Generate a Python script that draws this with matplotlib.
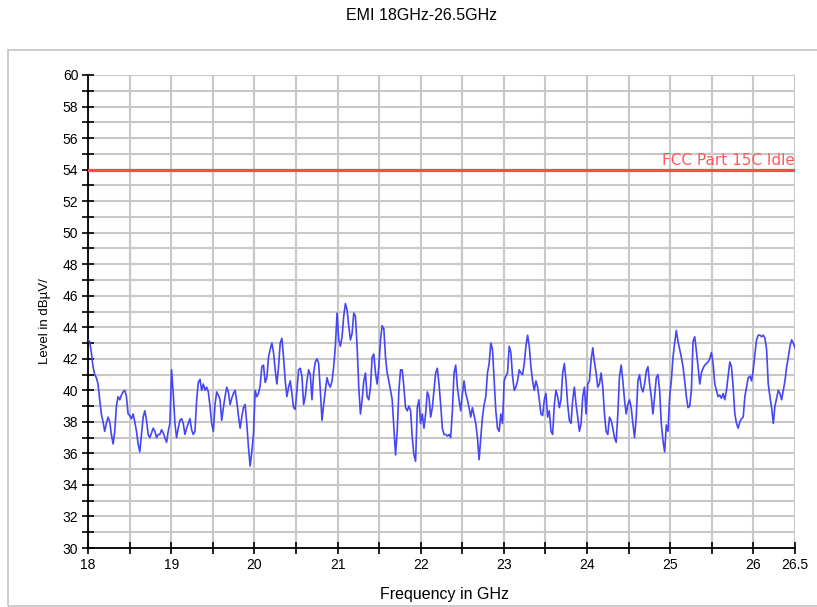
import numpy as np
import matplotlib
matplotlib.use("Agg")
import matplotlib.pyplot as plt
from matplotlib.patches import Rectangle
from matplotlib.ticker import MultipleLocator

plt.rcParams['font.family'] = ['Liberation Sans', 'DejaVu Sans']

level_a = [43.2, 43.1, 42.4, 41.5, 41.0, 40.8, 40.4, 39.4, 38.5, 38.0, 37.4, 37.9, 38.3, 38.0, 37.2,
           36.6, 37.4, 39.0, 39.6, 39.4, 39.7, 39.9, 40.0, 39.6, 38.5, 38.4, 38.2, 38.5, 38.0, 37.4,
           36.6, 36.1, 37.2, 38.3, 38.7, 38.1, 37.2, 37.0, 37.3, 37.6, 37.4, 37.0, 37.2, 37.2, 37.5,
           37.3, 37.0, 36.7, 37.4, 37.9, 41.3, 39.8, 37.9, 37.0, 37.6, 38.1, 38.2, 37.9, 37.2, 37.6,
           37.9, 38.2, 37.5, 37.2, 37.4, 39.4, 40.5, 40.7, 40.0, 40.4, 40.0, 40.2, 39.9, 39.0]
level_b = [37.9, 37.4, 39.1, 39.9, 39.7, 39.4, 38.1, 38.9, 39.6, 40.2, 39.9, 39.1, 39.5, 39.8, 40.0,
           39.3, 38.4, 37.6, 38.3, 38.9, 39.1, 37.9, 36.4, 35.2, 36.1, 37.2, 40.0, 39.6, 39.8, 40.3,
           41.5, 41.6, 40.5, 40.8, 42.1, 42.6, 43.0, 42.4, 41.3, 40.4, 41.5, 43.0, 43.3, 42.1, 40.6,
           39.6, 40.2, 40.6, 39.8, 38.9, 38.8, 40.0, 41.3, 41.4, 40.9, 39.1, 39.6, 40.6, 41.3, 41.0,
           39.4, 41.1, 41.8, 42.0, 41.7, 40.0, 38.1, 39.1, 40.0, 40.8, 40.4, 40.2]
level_c = [40.6, 41.5, 42.8, 44.9, 43.2, 42.8, 43.4, 44.7, 45.5, 45.1, 44.1, 43.2, 43.6, 44.9, 44.7,
           42.8, 40.2, 38.5, 39.4, 40.6, 41.1, 39.6, 39.4, 40.2, 42.1, 42.3, 41.1, 40.4, 41.5, 43.2,
           44.1, 43.9, 42.1, 41.1, 40.6, 40.0, 39.4, 37.6, 35.9, 37.4, 40.0, 41.3, 41.3, 40.2, 38.9,
           38.7, 39.0, 38.7, 37.0, 35.9, 35.5, 38.9, 39.4, 37.9, 38.5, 37.6, 38.5, 39.9, 39.6, 38.3,
           38.9, 40.0, 41.1, 41.4, 40.4, 39.1, 37.6, 37.2, 37.2, 37.1, 37.2, 37.0]
level_d = [38.7, 41.1, 41.6, 40.2, 39.4, 38.7, 39.8, 40.6, 39.8, 39.4, 38.9, 38.3, 38.9, 38.4, 37.9,
           37.0, 35.6, 37.0, 38.3, 39.1, 39.6, 41.1, 41.7, 43.0, 42.6, 40.6, 38.7, 37.6, 37.4, 38.5,
           37.9, 40.6, 40.9, 41.1, 42.8, 42.4, 40.9, 40.0, 40.2, 40.6, 41.3, 41.1, 41.0, 41.7, 42.8,
           43.5, 42.8, 41.5, 40.6, 40.0, 40.6, 40.2, 39.4, 38.5, 38.4, 39.4, 39.8, 38.3, 38.7, 37.4,
           37.2, 39.1, 40.0, 39.6, 38.9, 39.4, 41.1, 41.7, 40.6, 39.1, 38.1, 37.9]
level_e = [39.4, 40.2, 39.1, 38.3, 37.4, 37.9, 39.6, 40.2, 38.5, 40.4, 40.6, 41.9, 42.7, 41.8, 41.1,
           40.2, 40.4, 41.1, 40.2, 38.5, 37.4, 37.2, 38.3, 38.1, 37.6, 37.0, 36.7, 38.5, 40.9, 41.6,
           40.6, 39.4, 38.5, 39.1, 39.4, 38.9, 37.9, 37.0, 38.3, 40.6, 41.0, 40.2, 39.9, 40.4, 41.2,
           41.5, 40.4, 39.6, 38.5, 39.6, 40.8, 41.0, 40.0, 37.9, 36.8, 36.1, 37.8, 37.4, 39.6, 40.6,
           42.1, 43.0, 43.8, 43.1, 42.6, 42.1, 41.5, 40.6, 39.6, 38.9, 39.0, 40.0]
level_f = [43.1, 43.4, 42.5, 41.5, 40.4, 41.1, 41.4, 41.6, 41.7, 41.8, 42.0, 42.4, 41.7, 40.4, 40.0,
           39.6, 39.7, 39.5, 39.8, 39.4, 40.0, 40.9, 41.8, 41.5, 40.2, 38.5, 37.9, 37.6, 38.0, 38.2,
           38.3, 39.6, 40.2, 40.8, 40.9, 40.6, 41.3, 42.3, 43.2, 43.5, 43.5, 43.4, 43.5, 43.3, 42.6,
           40.4, 39.6, 38.9, 37.9, 39.0, 39.5, 40.0, 39.8, 39.4, 40.0, 40.6, 41.5, 42.1, 42.8, 43.2,
           43.0, 42.7]

level = np.array(level_a + level_b + level_c + level_d + level_e + level_f)
freq = np.linspace(18.0, 26.5, len(level))

limit_value = 54
limit_label = "FCC Part 15C Idle"
x_labels = ["18", "19", "20", "21", "22", "23", "24", "25", "26", "26.5"]
x_label_pos = [18, 19, 20, 21, 22, 23, 24, 25, 26, 26.5]

fig = plt.figure(figsize=(8.17, 6.07), dpi=100)

# light outer frame
fig.patches.append(Rectangle((8 / 817, 1 / 607), 1.2, 556 / 607, transform=fig.transFigure,
                             fill=False, edgecolor="#c4c4c4", linewidth=1.2))

ax = fig.add_axes([88 / 817, 1 - 548 / 607, 707 / 817, 473 / 607])
ax.plot(freq, level, color="#4646f5", linewidth=1.2, zorder=3)
ax.axhline(limit_value, color="#ff4a4a", linewidth=2.3, zorder=3)
ax.text(26.5, limit_value + 0.12, limit_label, color="#ff5a5a", fontsize=11,
        family="DejaVu Sans", ha="right", va="bottom", zorder=4)

ax.set_xlim(18, 26.5)
ax.set_ylim(30, 60)
ax.set_xticks(x_label_pos)
ax.set_xticklabels(x_labels)
ax.xaxis.set_minor_locator(MultipleLocator(0.5))
ax.yaxis.set_major_locator(MultipleLocator(2))
ax.yaxis.set_minor_locator(MultipleLocator(1))
ax.tick_params(which="both", direction="inout", length=8, width=1.2, labelsize=10, pad=3)
ax.grid(which="both", color="#c8c8c8", linewidth=1.5, zorder=0)
ax.set_axisbelow(True)

for s in ["top", "right"]:
    ax.spines[s].set_visible(False)
for s in ["left", "bottom"]:
    ax.spines[s].set_linewidth(1.3)

fig.text(421 / 817, 1 - 15 / 607, "EMI 18GHz-26.5GHz", fontsize=11.5, ha="center", va="center")
fig.text(444 / 817, 1 - 594 / 607, "Frequency in GHz", fontsize=11.5, ha="center", va="center")
fig.text(45 / 817, 1 - 321 / 607, "Level in dB\u00b5V/", fontsize=9.5, rotation=90,
         ha="center", va="center")

fig.savefig("out.png", dpi=100)
